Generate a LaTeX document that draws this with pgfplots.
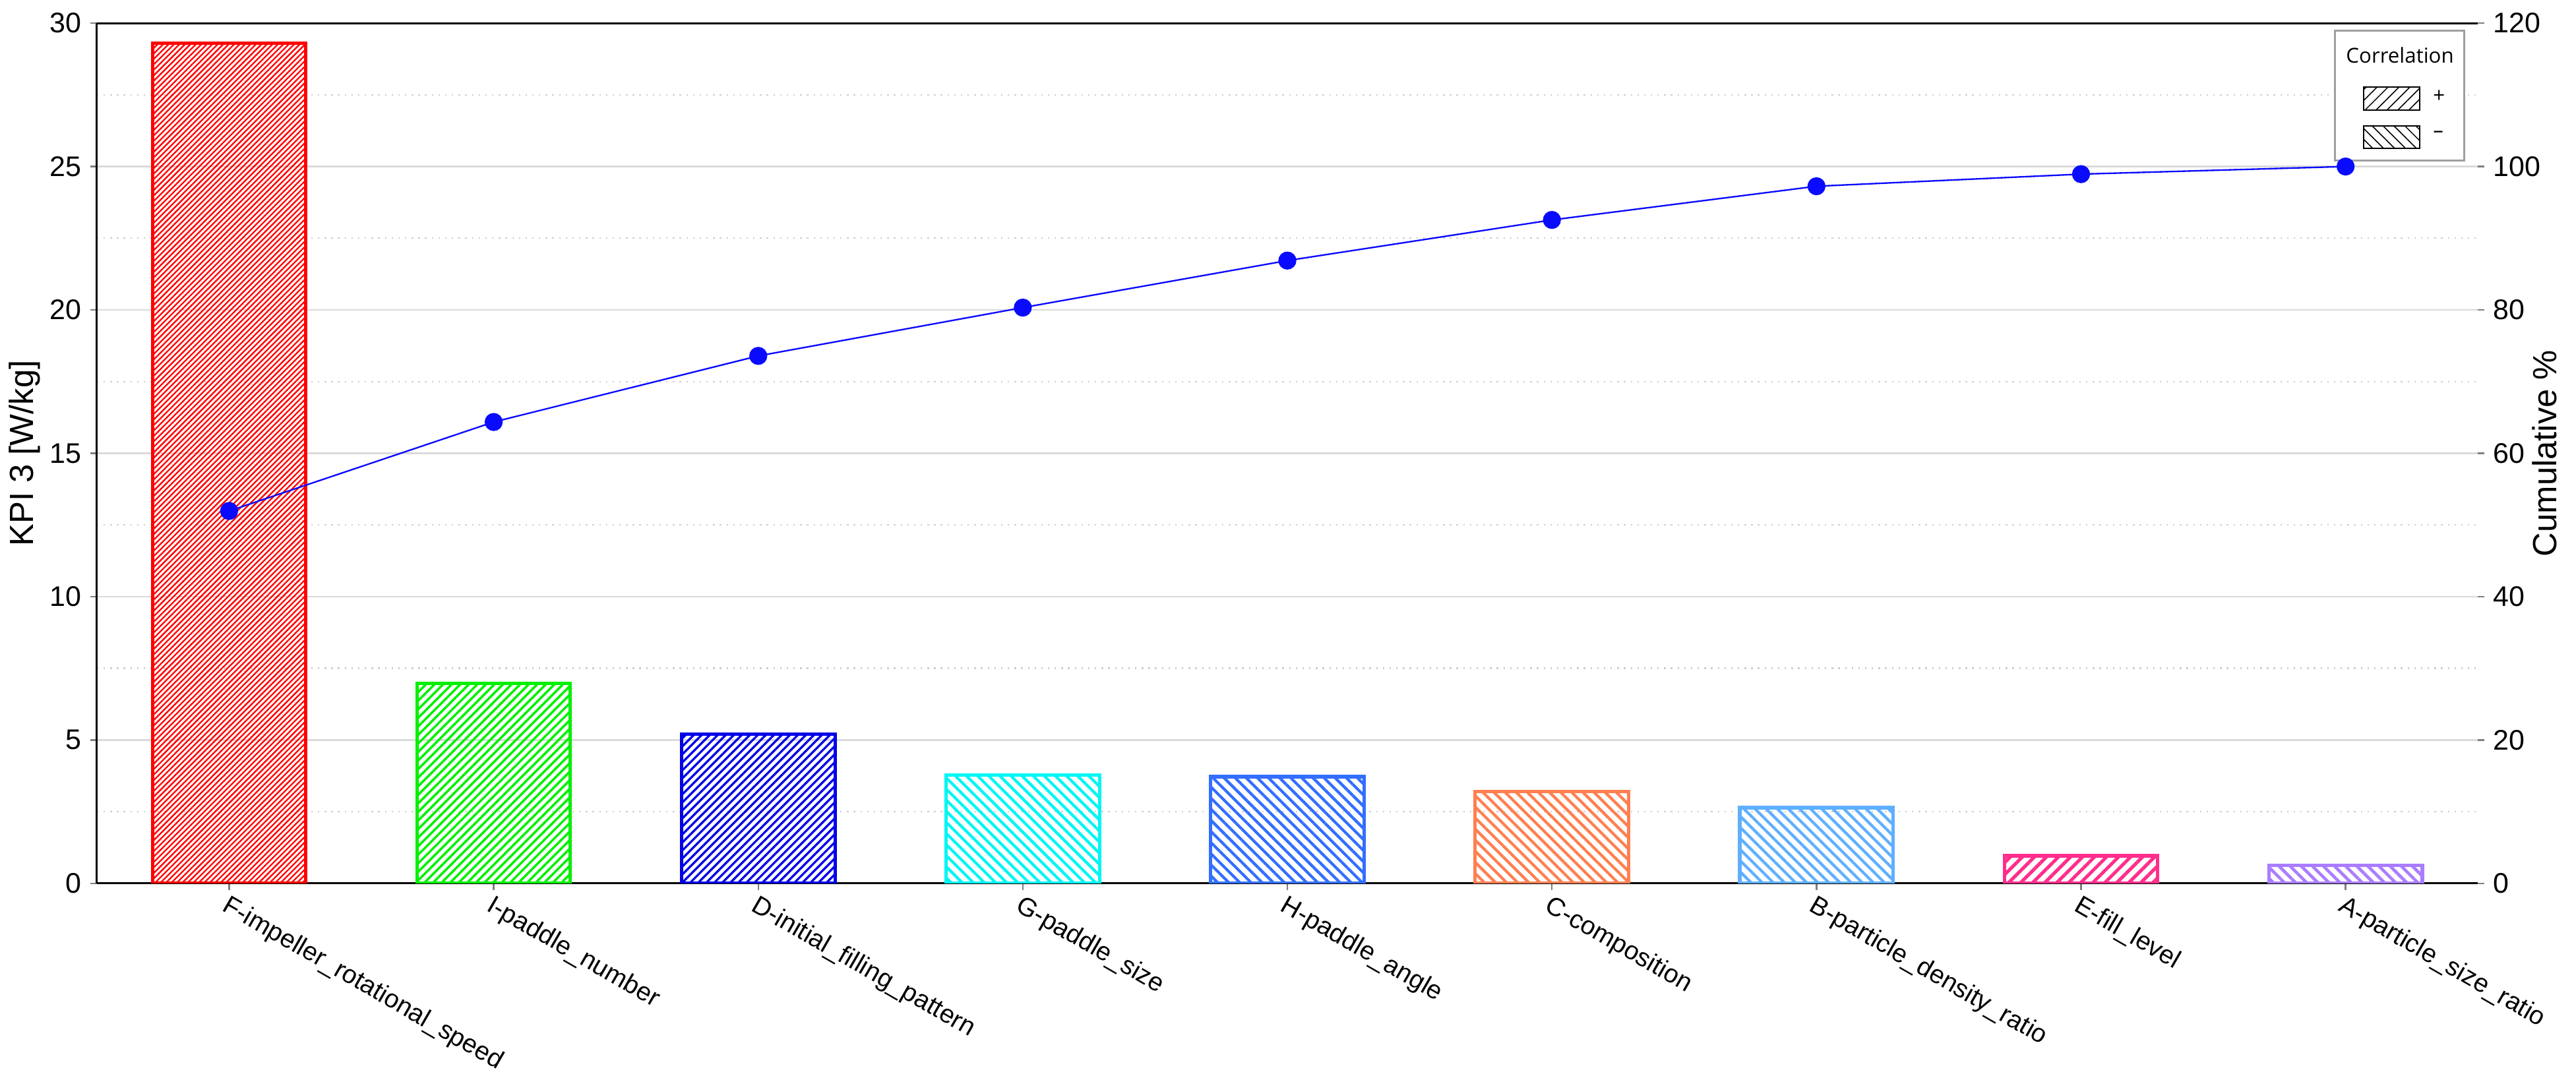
\documentclass[border=0pt]{standalone}
\usepackage{fontspec}
\setmainfont{Liberation Sans}
\newfontfamily\legfont{Open Sans}
\usepackage{pgfplots}
\pgfplotsset{compat=1.18}
\usetikzlibrary{patterns.meta}
\definecolor{cF}{RGB}{255,0,0}
\definecolor{cI}{RGB}{0,240,0}
\definecolor{cD}{RGB}{0,0,230}
\definecolor{cG}{RGB}{0,245,245}
\definecolor{cH}{RGB}{51,110,255}
\definecolor{cC}{RGB}{255,127,80}
\definecolor{cB}{RGB}{95,175,255}
\definecolor{cE}{RGB}{255,45,140}
\definecolor{cA}{RGB}{170,125,255}
\definecolor{cLine}{RGB}{10,10,255}
\definecolor{gridmaj}{RGB}{218,218,218}
\definecolor{gridmin}{RGB}{205,205,205}
\begin{document}
\begin{tikzpicture}
\begin{axis}[
  name=main,
  scale only axis, width=924.3pt, height=334pt,
  xmin=-0.5, xmax=8.5, ymin=0, ymax=30,
  axis x line*=bottom, axis y line*=left,
  x axis line style={black, line width=0.8pt},
  y axis line style={black, line width=0.8pt},
  xtick={0,1,2,3,4,5,6,7,8},
  xticklabels={F-impeller\_rotational\_speed, I-paddle\_number, D-initial\_filling\_pattern, G-paddle\_size, H-paddle\_angle, C-composition, B-particle\_density\_ratio, E-fill\_level, A-particle\_size\_ratio},
  x tick label style={rotate=-30, anchor=north west, font=\fontsize{10}{12}\selectfont, inner sep=1pt},
  ytick={0,5,10,15,20,25,30},
  minor y tick num=1,
  ymajorgrids, yminorgrids,
  major grid style={draw=gridmaj, line width=0.6pt},
  minor grid style={draw=gridmin, line width=0.6pt, dash pattern=on 0.6pt off 2pt},
  tick align=outside,
  major tick length=2.5pt, minor tick length=0pt,
  tick style={gray, line width=0.6pt},
  /pgf/number format/assume math mode=true,
  yticklabel style={font=\fontsize{11}{13}\selectfont},
  ylabel={KPI 3 [W/kg]},
  ylabel style={at={(axis description cs:-0.0303,0.5)}, anchor=center, font=\fontsize{13}{15}\selectfont},
  ybar, bar width=0.58, bar shift=0pt,
  legend style={at={(0.9946,0.9925)}, anchor=north east, draw=gray!75, line width=0.7pt, fill=white,
    font=\legfont\fontsize{8}{9}\selectfont, row sep=5.2pt, column sep=3pt, inner xsep=2pt, inner ysep=4.5pt},
  legend cell align=left,
]
\addplot[draw=cF, line width=1.3pt, pattern={Lines[angle=45,distance=1.5pt,line width=0.6pt]}, pattern color=cF, forget plot] coordinates {(0,29.3)};
\addplot[draw=cI, line width=1.3pt, pattern={Lines[angle=45,distance=2.35pt,line width=0.9pt]}, pattern color=cI, forget plot] coordinates {(1,6.98)};
\addplot[draw=cD, line width=1.3pt, pattern={Lines[angle=45,distance=2.2pt,line width=0.85pt]}, pattern color=cD, forget plot] coordinates {(2,5.21)};
\addplot[draw=cG, line width=1.3pt, pattern={Lines[angle=-45,distance=3.05pt,line width=1.1pt]}, pattern color=cG, forget plot] coordinates {(3,3.78)};
\addplot[draw=cH, line width=1.3pt, pattern={Lines[angle=-45,distance=3.05pt,line width=1.1pt]}, pattern color=cH, forget plot] coordinates {(4,3.72)};
\addplot[draw=cC, line width=1.3pt, pattern={Lines[angle=-45,distance=3.05pt,line width=1.1pt]}, pattern color=cC, forget plot] coordinates {(5,3.20)};
\addplot[draw=cB, line width=1.3pt, pattern={Lines[angle=-45,distance=3.05pt,line width=1.1pt]}, pattern color=cB, forget plot] coordinates {(6,2.64)};
\addplot[draw=cE, line width=1.3pt, pattern={Lines[angle=45,distance=3.3pt,line width=1.3pt]}, pattern color=cE, forget plot] coordinates {(7,0.96)};
\addplot[draw=cA, line width=1.3pt, pattern={Lines[angle=-45,distance=3.05pt,line width=1.2pt]}, pattern color=cA, forget plot] coordinates {(8,0.62)};
\addlegendimage{empty legend}
\addlegendentry{\hspace*{-33.8pt}Correlation}
\addlegendimage{legend image code/.code={\path (-2.5pt,0pt); \draw[black,line width=0.5pt,pattern={Lines[angle=45,distance=3pt,line width=0.4pt]},pattern color=black] (6.4pt,-4.45pt) rectangle (28.1pt,4.45pt);}}
\addlegendentry{+}
\addlegendimage{legend image code/.code={\path (-2.5pt,0pt); \draw[black,line width=0.5pt,pattern={Lines[angle=-45,distance=3pt,line width=0.4pt]},pattern color=black] (6.4pt,-4.45pt) rectangle (28.1pt,4.45pt);}}
\addlegendentry{\raisebox{0.2ex}{\textendash}}
\end{axis}
\begin{axis}[
  scale only axis, width=924.3pt, height=334pt,
  xmin=-0.5, xmax=8.5, ymin=0, ymax=120,
  axis x line*=top, xtick=\empty,
  axis y line*=right,
  x axis line style={black, line width=0.8pt},
  y axis line style={draw=none},
  ytick={0,20,40,60,80,100,120},
  tick align=outside,
  major tick length=2.5pt, minor tick length=0pt,
  tick style={gray, line width=0.6pt},
  /pgf/number format/assume math mode=true,
  yticklabel style={font=\fontsize{11}{13}\selectfont},
  ylabel={Cumulative \%},
  ylabel style={at={(axis description cs:1.0281,0.5)}, anchor=center, font=\fontsize{13}{15}\selectfont},
]
\addplot[color=cLine, line width=0.6pt, mark=*, mark size=3.2pt, mark options={fill=cLine, draw=cLine}] coordinates {
(0,51.95) (1,64.36) (2,73.58) (3,80.32) (4,86.88) (5,92.55) (6,97.25) (7,98.94) (8,100)
};
\end{axis}
\pgfresetboundingbox
\path[use as bounding box] ([xshift=-37.6pt,yshift=-74.8pt]main.south west) rectangle ([xshift=38.1pt,yshift=9pt]main.north east);
\end{tikzpicture}
\end{document}
